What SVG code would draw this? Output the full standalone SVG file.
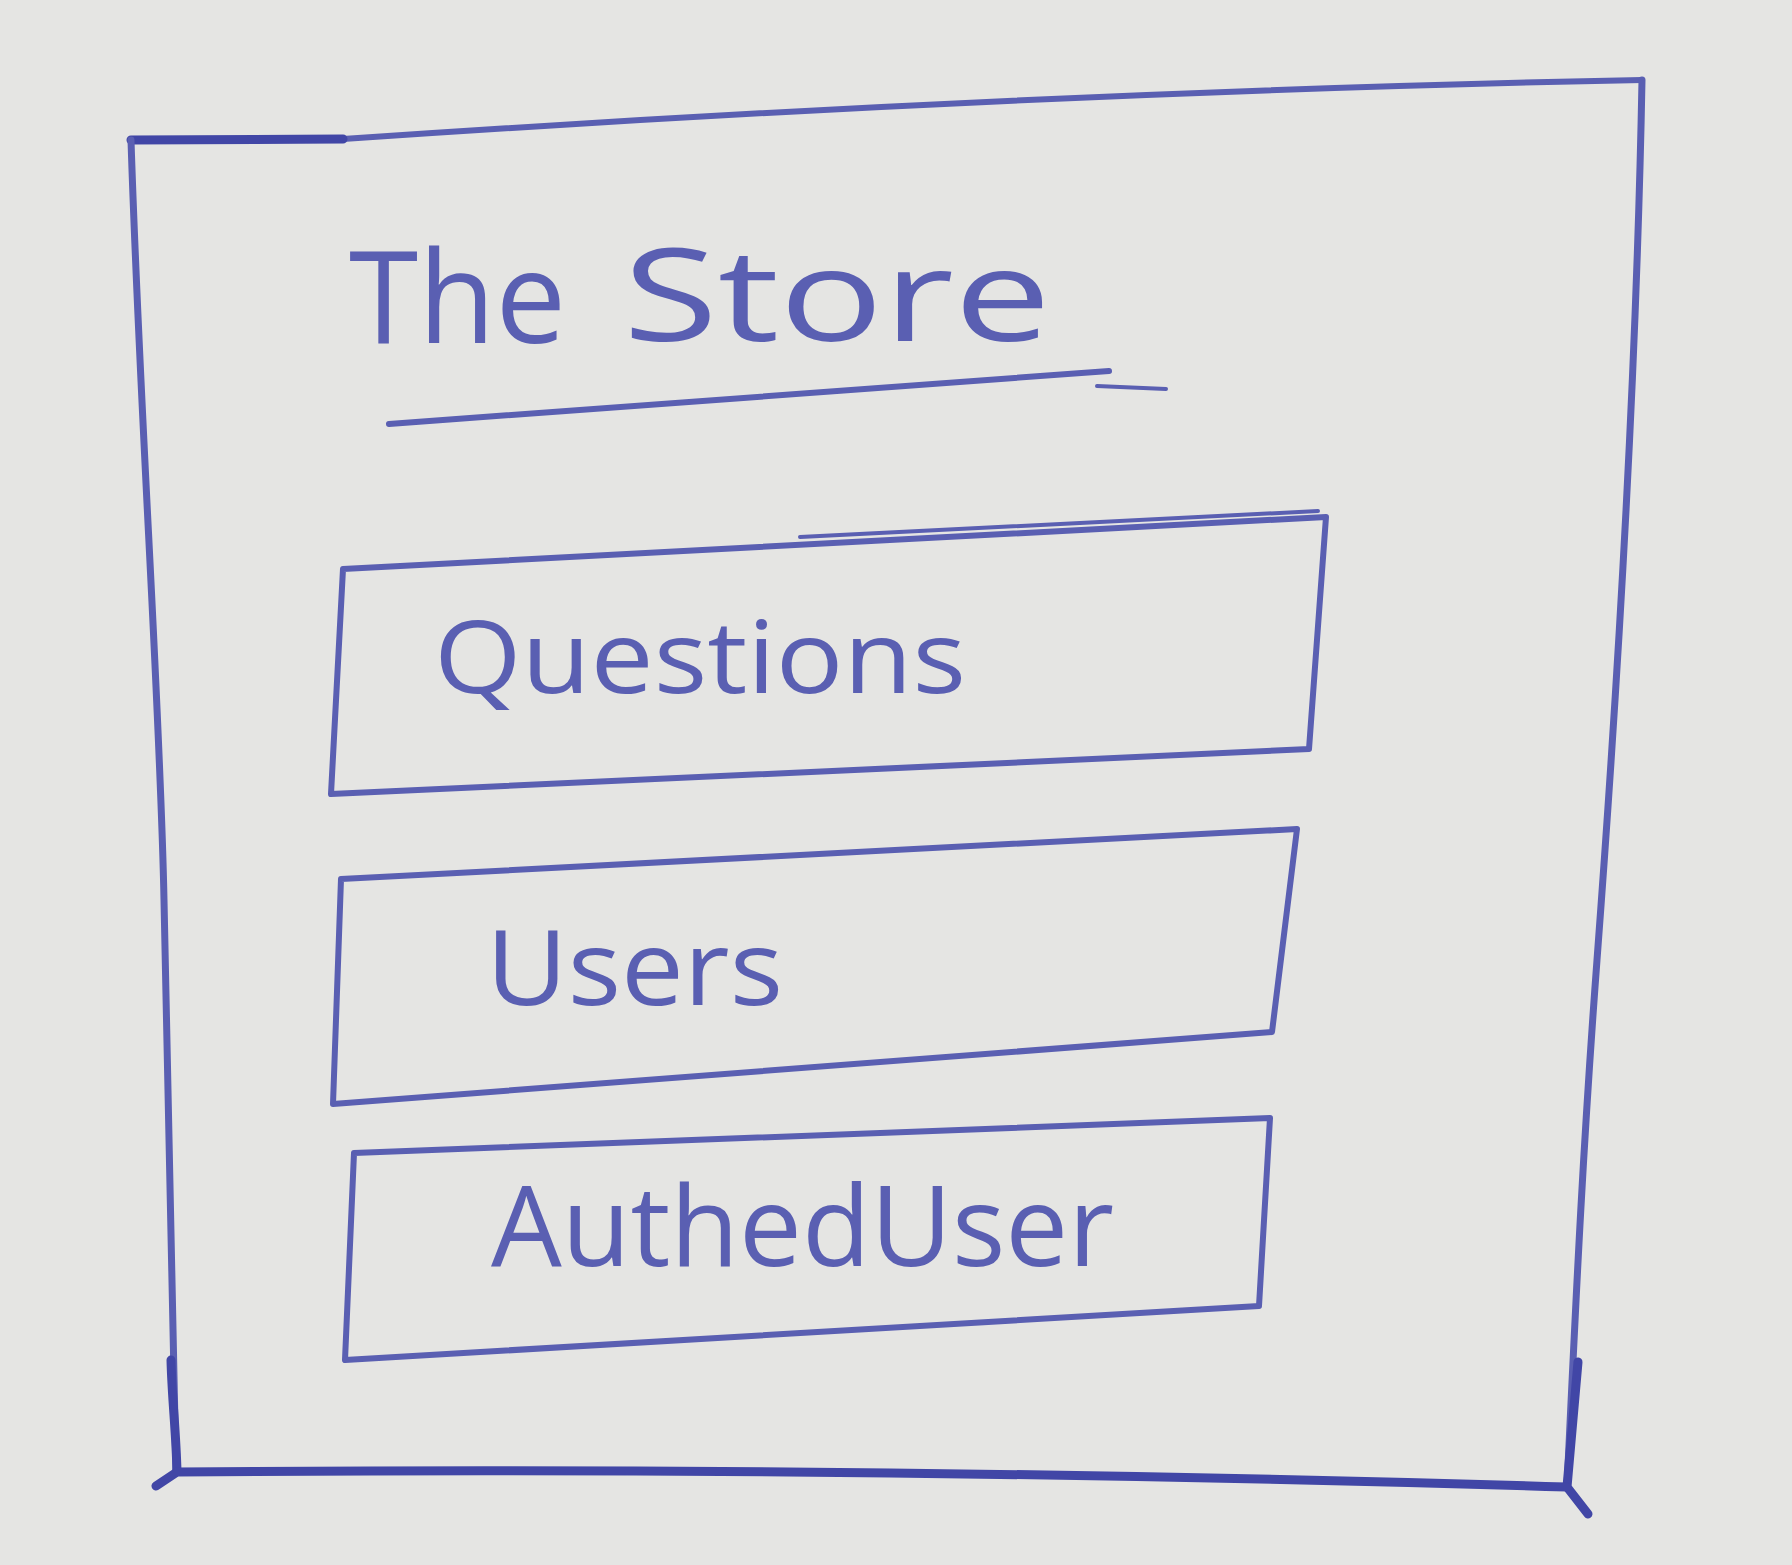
<svg xmlns="http://www.w3.org/2000/svg" width="1792" height="1565" viewBox="0 0 1792 1565">
  <style>
    .ink { fill: none; stroke: #5a5fb2; stroke-width: 6; stroke-linecap: round; stroke-linejoin: round; }
    .edge { stroke-width: 7; }
    .heavy { stroke: #4146a6; stroke-width: 9; }
    .thin { stroke-width: 4; }
    .label { fill: #5a5fb2; font-family: "Open Sans", "Liberation Sans", sans-serif; font-weight: 400; }
  </style>
  <rect width="1792" height="1565" fill="#e5e5e3"/>

  <!-- outer frame: the store -->
  <g id="store">
    <!-- top edge, heavy start at the corner -->
    <path class="ink" stroke-width="5" d="M343,139 Q1030,92 1642,80"/>
    <path class="ink heavy" d="M131,140 L343,139"/>
    <!-- right edge -->
    <path class="ink edge" d="M1642,80 C1636,400 1612,760 1597,960 S1575,1320 1567,1487"/>
    <path class="ink heavy" d="M1578,1362 L1567,1487 L1588,1514"/>
    <!-- left edge -->
    <path class="ink edge" d="M131,140 C140,420 160,700 164,900 S172,1300 176,1472"/>
    <path class="ink heavy" d="M171,1360 C172,1400 176,1430 177,1472"/>
    <!-- bottom edge -->
    <path class="ink heavy" d="M156,1486 L177,1472 Q870,1466 1567,1487"/>

    <text class="label" x="349" y="343" font-size="128" textLength="217" lengthAdjust="spacingAndGlyphs">The</text>
    <text class="label" x="623" y="341" font-size="128" textLength="428" lengthAdjust="spacingAndGlyphs">Store</text>
    <path class="ink" d="M389,424 L1109,371"/>
    <path class="ink thin" d="M1097,386 L1166,389"/>
  </g>

  <!-- slice: questions -->
  <g id="questions">
    <path class="ink" d="M343,569 L1326,517 L1309,749 L331,794 Z"/>
    <path class="ink thin" d="M800,537 L1318,511"/>
    <text class="label" x="434" y="693" font-size="100" textLength="532" lengthAdjust="spacingAndGlyphs">Questions</text>
  </g>

  <!-- slice: users -->
  <g id="users">
    <path class="ink" d="M341,879 L1297,829 L1272,1032 L333,1104 Z"/>
    <text class="label" x="486" y="1005" font-size="105" textLength="297" lengthAdjust="spacingAndGlyphs">Users</text>
  </g>

  <!-- slice: authed user -->
  <g id="authedUser">
    <path class="ink" d="M354,1153 L1270,1118 L1259,1306 L345,1360 Z"/>
    <text class="label" x="491" y="1266" font-size="112" textLength="623" lengthAdjust="spacingAndGlyphs">AuthedUser</text>
  </g>
</svg>
